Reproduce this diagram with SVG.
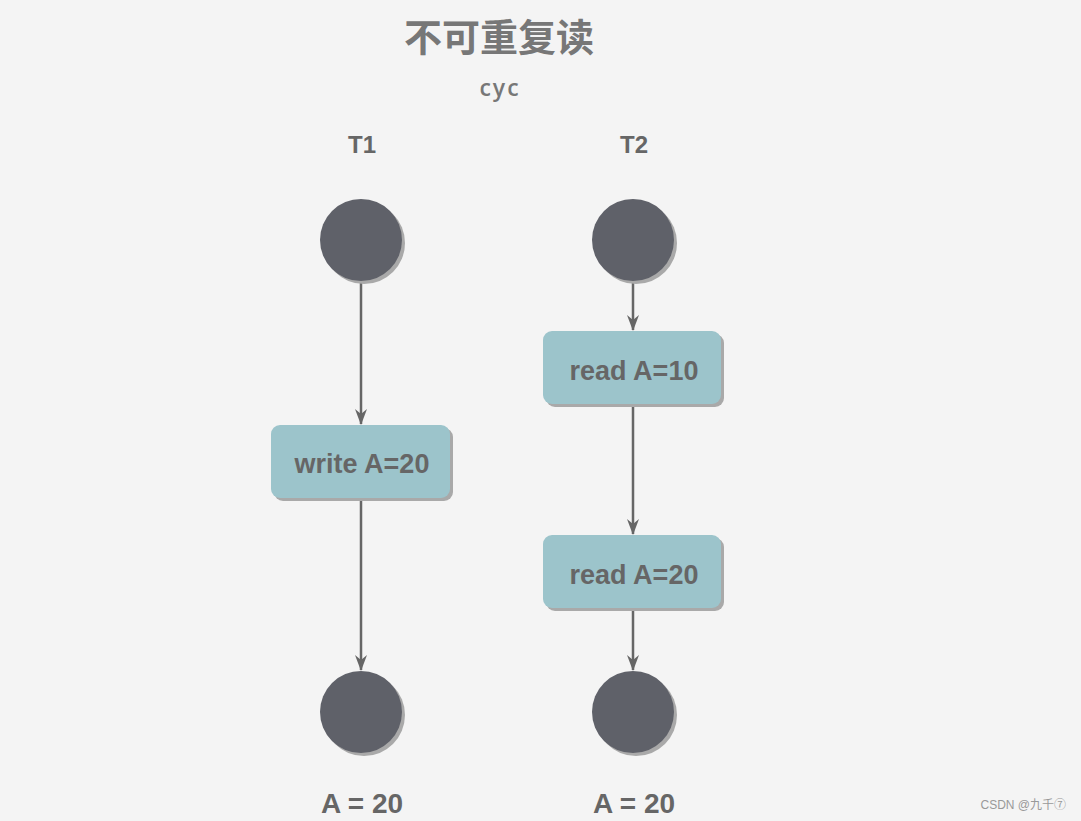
<svg xmlns="http://www.w3.org/2000/svg" width="1081" height="821" viewBox="0 0 1081 821">
<defs>
<style>
.t{font-family:"Liberation Sans","Noto Sans CJK SC",sans-serif;font-weight:bold;fill:#666;text-anchor:middle}
.box{fill:#9cc4cb}
.sh{fill:#a9a9a9}
.dot{fill:#5f6169}
.ln{stroke:#666;stroke-width:2.5;fill:none}
</style>
<marker id="ah" viewBox="0 0 16 12" refX="15" refY="6" markerWidth="16" markerHeight="12" markerUnits="userSpaceOnUse" orient="auto">
<path d="M0,0 L16,6 L0,12 L5,6 Z" fill="#666"/>
</marker>
</defs>
<rect width="1081" height="821" fill="#f4f4f4"/>
<text class="t" x="499" y="51" font-size="38" style="fill:#777">不可重复读</text>
<text x="500" y="96" font-size="23" letter-spacing="2" font-family="'Open Sans','Liberation Sans',sans-serif" font-weight="600" fill="#777" text-anchor="middle">cyc</text>
<text class="t" x="362" y="153" font-size="24">T1</text>
<text class="t" x="634" y="153" font-size="24">T2</text>
<g id="connectors">
<line class="ln" x1="361" y1="281" x2="361" y2="424" marker-end="url(#ah)"/>
<line class="ln" x1="361" y1="499" x2="361" y2="670" marker-end="url(#ah)"/>
<line class="ln" x1="633" y1="281" x2="633" y2="330" marker-end="url(#ah)"/>
<line class="ln" x1="633" y1="405" x2="633" y2="534" marker-end="url(#ah)"/>
<line class="ln" x1="633" y1="609" x2="633" y2="670" marker-end="url(#ah)"/>
</g>
<g id="t1-start">
<circle class="sh" cx="364" cy="243" r="41"/>
<circle class="dot" cx="361" cy="240" r="41"/>
</g>
<g id="t2-start">
<circle class="sh" cx="636" cy="243" r="41"/>
<circle class="dot" cx="633" cy="240" r="41"/>
</g>
<g id="write">
<rect class="sh" x="274" y="428" width="179" height="73" rx="9"/>
<rect class="box" x="271" y="425" width="179" height="73" rx="9"/>
<text class="t" x="362" y="473" font-size="27">write A=20</text>
</g>
<g id="read1">
<rect class="sh" x="546" y="334" width="178" height="73" rx="9"/>
<rect class="box" x="543" y="331" width="178" height="73" rx="9"/>
<text class="t" x="634" y="380" font-size="27">read A=10</text>
</g>
<g id="read2">
<rect class="sh" x="546" y="538" width="178" height="73" rx="9"/>
<rect class="box" x="543" y="535" width="178" height="73" rx="9"/>
<text class="t" x="634" y="584" font-size="27">read A=20</text>
</g>
<g id="t1-end">
<circle class="sh" cx="364" cy="715" r="41"/>
<circle class="dot" cx="361" cy="712" r="41"/>
</g>
<g id="t2-end">
<circle class="sh" cx="636" cy="715" r="41"/>
<circle class="dot" cx="633" cy="712" r="41"/>
</g>
<text class="t" x="362" y="813" font-size="28">A = 20</text>
<text class="t" x="634" y="813" font-size="28">A = 20</text>
<text x="1066" y="809" font-size="12" font-family="'Liberation Sans','Noto Sans CJK SC',sans-serif" fill="#999" text-anchor="end">CSDN @九千⑦</text>
</svg>
